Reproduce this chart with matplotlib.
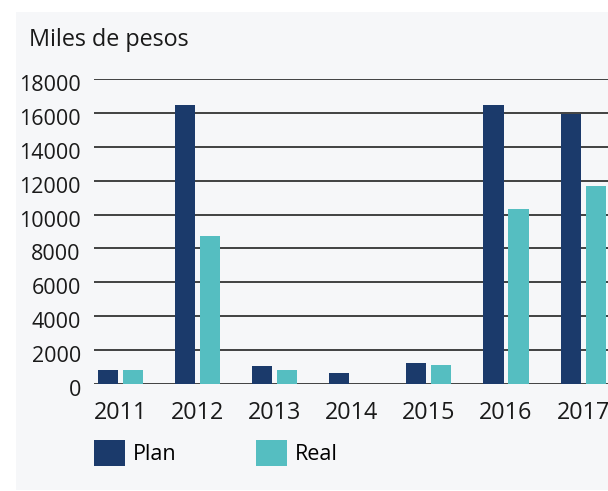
import matplotlib.pyplot as plt
from matplotlib.patches import Rectangle, Patch
import matplotlib.transforms as mtransforms
import numpy as np

# ------------------------------------------------------------------------------------

years = ["2011", "2012", "2013", "2014", "2015", "2016", "2017"]
plan = [850, 16450, 1050, 650, 1250, 16450, 15950]
real = [850, 8750, 850, 0, 1150, 10300, 11700]
yticks = [0, 2000, 4000, 6000, 8000, 10000, 12000, 14000, 16000, 18000]

plan_color = "#1b3a6b"
real_color = "#55bec1"

# ------------------------------------------------------------------------------------

plt.rcParams["font.family"] = ["Open Sans", "DejaVu Sans"]

W, H = 608, 491
fig = plt.figure(figsize=(W / 100, H / 100), dpi=100, facecolor="white")

# light gray panel behind everything
fig.patches.append(Rectangle((16 / W, 1 - 490 / H), 592 / W, 478 / H,
                             transform=fig.transFigure, facecolor="#f6f7f9",
                             edgecolor="none", zorder=-10))

ax = fig.add_axes([94 / W, 107 / H, 514 / W, 305 / H])
ax.patch.set_alpha(0)

x = np.arange(len(years))
w = 0.26
off = 0.162
ax.bar(x - off, plan, width=w, color=plan_color, zorder=3, label="Plan")
ax.bar(x + off, real, width=w, color=real_color, zorder=3, label="Real")

ax.set_xlim(-0.344, 6.323)
ax.set_ylim(0, 18000)
ax.set_yticks(yticks)
ax.set_yticklabels([str(v) for v in yticks])
ax.set_xticks(x)
ax.set_xticklabels(years)

ax.yaxis.grid(True, color="#333333", linewidth=1.3, zorder=0)
ax.set_axisbelow(True)
for s in ax.spines.values():
    s.set_visible(False)

ax.tick_params(axis="y", length=0, pad=9.5, labelsize=15.5, labelcolor="#1a1a1a")
ax.tick_params(axis="x", length=0, pad=12, labelsize=16.8, labelcolor="#1a1a1a")

# y labels sit a little lower than their lines
shift = mtransforms.ScaledTranslation(0, -4 / 100, fig.dpi_scale_trans)
for lbl in ax.get_yticklabels():
    lbl.set_transform(lbl.get_transform() + shift)

fig.text(29 / W, 1 - 46 / H, "Miles de pesos", fontsize=16.8, color="#1a1a1a",
         va="baseline", ha="left")

handles = [Patch(facecolor=plan_color, label="Plan"),
           Patch(facecolor=real_color, label="Real")]
fig.legend(handles=handles, loc="upper left", bbox_to_anchor=(94 / W, 1 - 440 / H),
           ncol=2, frameon=False, fontsize=15.5, handlelength=1.44, handleheight=1.5,
           handletextpad=0.37, columnspacing=3.69, borderpad=0, borderaxespad=0)

fig.savefig("out.png", dpi=100)
